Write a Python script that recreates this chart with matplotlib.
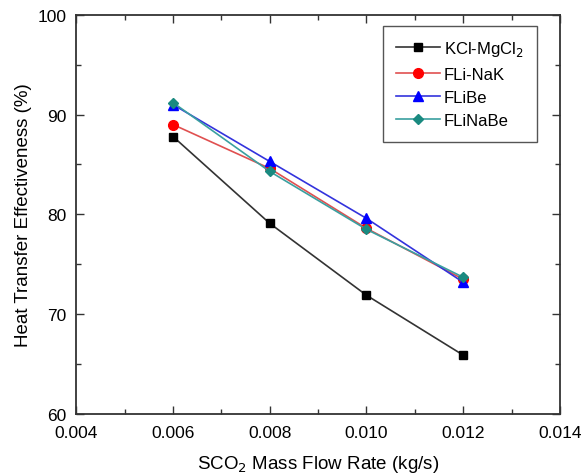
import matplotlib
matplotlib.use("Agg")
import matplotlib.pyplot as plt
from matplotlib.ticker import MultipleLocator, FormatStrFormatter

plt.rcParams['font.family'] = ['Liberation Sans', 'DejaVu Sans']

# data
flow = [0.006, 0.008, 0.010, 0.012]
kcl_mgcl2 = [87.8, 79.1, 71.9, 65.9]
fli_nak = [89.0, 84.6, 78.6, 73.5]
flibe = [91.0, 85.3, 79.6, 73.2]
flinabe = [91.2, 84.3, 78.5, 73.7]

fig = plt.figure(figsize=(5.82, 4.77), dpi=100)
ax = fig.add_axes([0.131, 0.130, 0.831, 0.837])

ax.plot(flow, kcl_mgcl2, color='#333333', lw=1.2, marker='s', ms=6,
        mfc='black', mec='black', label='KCl-MgCl$_2$')
ax.plot(flow, fli_nak, color='#e05050', lw=1.2, marker='o', ms=7,
        mfc='red', mec='red', label='FLi-NaK')
ax.plot(flow, flibe, color='#3333dd', lw=1.2, marker='^', ms=7,
        mfc='blue', mec='blue', label='FLiBe')
ax.plot(flow, flinabe, color='#3aa0a0', lw=1.2, marker='D', ms=5.5,
        mfc='#1a8a80', mec='#1a8a80', label='FLiNaBe')

ax.set_xlim(0.004, 0.014)
ax.set_ylim(60, 100)
ax.xaxis.set_major_locator(MultipleLocator(0.002))
ax.xaxis.set_minor_locator(MultipleLocator(0.001))
ax.yaxis.set_major_locator(MultipleLocator(10))
ax.yaxis.set_minor_locator(MultipleLocator(5))
ax.xaxis.set_major_formatter(FormatStrFormatter('%.3f'))
ax.tick_params(which='both', direction='in', top=True, right=True,
               labelsize=12.5, width=1, color='#333333')
ax.tick_params(which='major', length=6)
ax.tick_params(which='minor', length=3.5)
ax.tick_params(axis='x', pad=8)
ax.tick_params(axis='y', pad=7)
for s in ax.spines.values():
    s.set_linewidth(1.3)
    s.set_color('#333333')

ax.set_xlabel('SCO$_2$ Mass Flow Rate (kg/s)', fontsize=13.5, labelpad=9)
ax.set_ylabel('Heat Transfer Effectiveness (%)', fontsize=13.5, labelpad=4)

leg = ax.legend(loc='upper right', fontsize=12, handlelength=2.6,
                handletextpad=0.25, fancybox=False, edgecolor='#555555',
                framealpha=1, borderpad=0.8, labelspacing=0.5,
                borderaxespad=0, bbox_to_anchor=(0.952, 0.972))
leg.get_frame().set_linewidth(1.0)

fig.savefig('out.png', dpi=100)
